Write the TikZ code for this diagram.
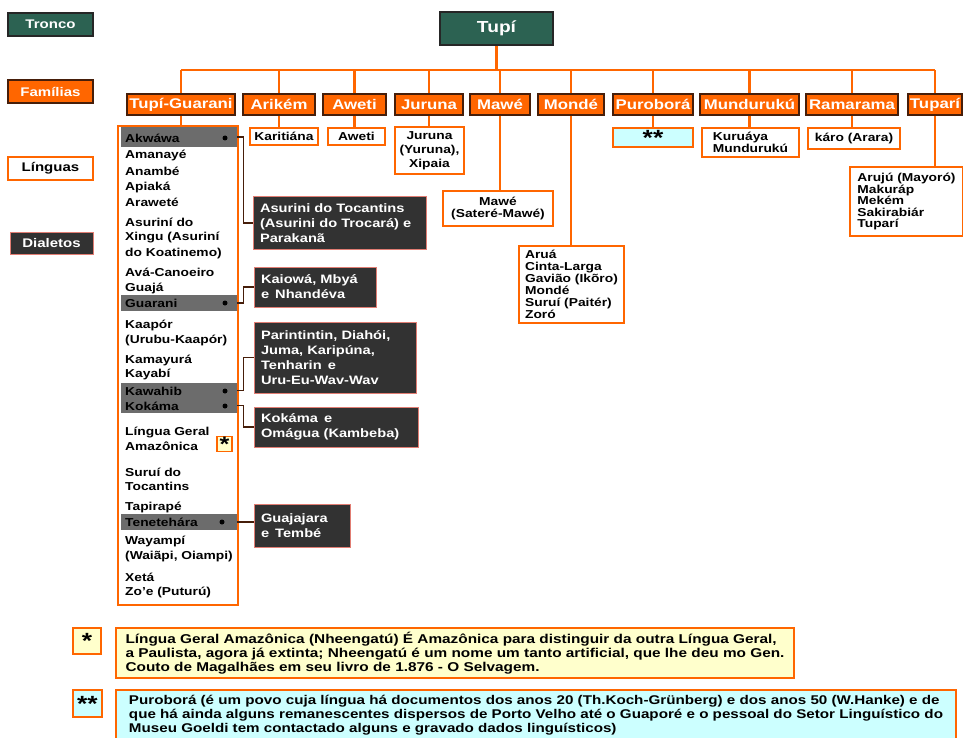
\documentclass[tikz,border=0pt]{standalone}
\usepackage{fontspec}
\setmainfont{Liberation Sans}[FakeStretch=1.2]
\usetikzlibrary{calc}

\definecolor{verdetronco}{RGB}{44,98,82}
\definecolor{laranja}{RGB}{255,102,0}
\definecolor{marrom}{RGB}{70,30,10}
\definecolor{cinzadial}{RGB}{50,50,50}
\definecolor{rosa}{RGB}{225,125,115}
\definecolor{cinzafaixa}{RGB}{108,108,108}
\definecolor{amarelonota}{RGB}{255,255,204}
\definecolor{cianonota}{RGB}{204,255,255}

\begin{document}
\begin{tikzpicture}[x=1pt,y=-1pt,
    caixa/.style={rectangle,inner sep=0pt,font=\bfseries},
    tronco/.style={caixa,fill=verdetronco,draw=black!85,line width=1.2pt,text=white},
    familia/.style={caixa,fill=laranja,draw=marrom,line width=1.2pt,text=white,font=\bfseries\fontsize{14}{16}\selectfont},
    lingua/.style={caixa,fill=white,draw=laranja,line width=2.4pt,align=left,font=\bfseries\fontsize{11.5}{12}\selectfont},
    dialeto/.style={caixa,fill=cinzadial,draw=rosa,line width=1pt,text=white,align=left,inner xsep=7pt,font=\bfseries\fontsize{12.2}{15}\selectfont},
    legenda/.style={minimum width=85,minimum height=23,font=\bfseries\fontsize{12.5}{15}\selectfont},
    faixa/.style={rectangle,inner sep=0pt,fill=cinzafaixa,minimum width=116},
    item/.style={anchor=west,inner sep=0pt,font=\bfseries\fontsize{11.5}{16}\selectfont},
    ponto/.style={circle,fill=black,inner sep=0pt,minimum size=5},
    nota/.style={caixa,draw=laranja,line width=1.2pt,align=left,font=\bfseries\fontsize{12.8}{14}\selectfont},
    asterisco/.style={font=\bfseries\fontsize{22}{22}\selectfont},
    arvore/.style={draw=laranja,line width=2.6pt},
    ligacao/.style={draw=marrom,line width=1.1pt}]

\useasboundingbox (0,0) rectangle (963,738);

% legenda
\node[tronco,legenda]  (lg-tronco)   at (50.5,24.5)  {Tronco};
\node[familia,legenda] (lg-familias) at (50.5,91.5)  {Famílias};
\node[lingua,legenda,line width=1.2pt] (lg-linguas) at (50.5,168.5) {Línguas};
\node[dialeto,legenda,minimum width=83,minimum height=22,inner xsep=0pt] (lg-dialetos) at (51.5,243) {Dialetos};

% tronco e familias
\node[tronco,minimum width=113,minimum height=33,font=\bfseries\fontsize{16}{19}\selectfont] (tupi) at (496.5,28.5) {Tupí};

\node[familia,minimum width=108,minimum height=21] (tg) at (181,104.5)   {Tupí-Guarani};
\node[familia,minimum width=72,minimum height=21]  (ar) at (279,104.5)   {Arikém};
\node[familia,minimum width=63,minimum height=21]  (aw) at (354.5,104.5) {Aweti};
\node[familia,minimum width=68,minimum height=21]  (ju) at (429,104.5)   {Juruna};
\node[familia,minimum width=60,minimum height=21]  (ma) at (500,104.5)   {Mawé};
\node[familia,minimum width=66,minimum height=21]  (mo) at (571,104.5)   {Mondé};
\node[familia,minimum width=80,minimum height=21]  (pu) at (653,104.5)   {Puroborá};
\node[familia,minimum width=99,minimum height=21]  (mu) at (749.5,104.5) {Mundurukú};
\node[familia,minimum width=92,minimum height=21]  (ra) at (852,104.5)   {Ramarama};
\node[familia,minimum width=54,minimum height=21]  (tp) at (935,104.5)   {Tuparí};

\coordinate (barra) at (496,70);
\draw[arvore] (tupi.south) -- (tupi.south |- barra);
\draw[arvore] (tg.north |- barra) -- (tp.north |- barra);
\foreach \f in {tg,ar,aw,ju,ma,mo,pu,mu,ra,tp}
    \draw[arvore] (\f.north) -- (\f.north |- barra);

% linguas
\node[lingua,minimum width=120,minimum height=479] (tg-l) at (178,365.5) {};
\node[lingua,minimum width=68,minimum height=17]  (ar-l) at (284,136.5)   {Karitiána};
\node[lingua,minimum width=57,minimum height=17]  (aw-l) at (356.5,136.5) {Aweti};
\node[lingua,minimum width=69,minimum height=47,align=center,font=\bfseries\fontsize{11.5}{14}\selectfont] (ju-l) at (429.5,150.5) {Juruna\\(Yuruna),\\Xipaia};
\node[lingua,minimum width=110,minimum height=35,align=center] (ma-l) at (498,208.5) {Mawé\\(Sateré-Mawé)};
\node[lingua,minimum width=105,minimum height=77] (mo-l) at (571.5,284.5) {Aruá\\Cinta-Larga\\Gavião (Ikõro)\\Mondé\\Suruí (Paitér)\\Zoró};
\node[lingua,fill=cianonota,minimum width=80,minimum height=19,asterisco] (pu-l) at (653,137.5) {\raisebox{-6pt}{**}};
\node[lingua,minimum width=97,minimum height=29]  (mu-l) at (750.5,142.5) {Kuruáya\\Mundurukú};
\node[lingua,minimum width=92,minimum height=21]  (ra-l) at (854,138.5)   {káro (Arara)};
\node[lingua,minimum width=113,minimum height=69,font=\bfseries\fontsize{11.5}{11.5}\selectfont] (tp-l) at (906.5,201.5) {Arujú (Mayoró)\\Makuráp\\Mekém\\Sakirabiár\\Tuparí};

\foreach \f in {tg,ar,aw,ju,ma,mo,pu,mu,ra,tp}
    \draw[arvore] (\f.south) -- (\f.south |- \f-l.north);

% faixas dos dialetos
\node[faixa,minimum height=20] (f-akwawa)     at (179,137)   {};
\node[faixa,minimum height=16] (f-guarani)    at (179,303)   {};
\node[faixa,minimum height=15] (f-kawahib)    at (179,390.5) {};
\node[faixa,minimum height=15] (f-kokama)     at (179,405.5) {};
\node[faixa,minimum height=16] (f-tenetehara) at (179,522)   {};

\node[item] (i1)  at (125,138) {Akwáwa};
\node[item] (i2)  at (125,155) {Amanayé};
\node[item] (i3)  at (125,171) {Anambé};
\node[item] (i4)  at (125,187) {Apiaká};
\node[item] (i5)  at (125,202) {Araweté};
\node[item] (i6)  at (125,222) {Asuriní do};
\node[item] (i7)  at (125,238) {Xingu (Asuriní};
\node[item] (i8)  at (125,254) {do Koatinemo)};
\node[item] (i9)  at (125,272) {Avá-Canoeiro};
\node[item] (i10) at (125,288) {Guajá};
\node[item] (i11) at (125,303) {Guarani};
\node[item] (i12) at (125,325) {Kaapór};
\node[item] (i13) at (125,340) {(Urubu-Kaapór)};
\node[item] (i14) at (125,360) {Kamayurá};
\node[item] (i15) at (125,374) {Kayabí};
\node[item] (i16) at (125,391) {Kawahib};
\node[item] (i17) at (125,406) {Kokáma};
\node[item] (i18) at (125,432) {Língua Geral};
\node[item] (i19) at (125,446) {Amazônica};
\node[item] (i20) at (125,472) {Suruí do};
\node[item] (i21) at (125,486) {Tocantins};
\node[item] (i22) at (125,507) {Tapirapé};
\node[item] (i23) at (125,522) {Tenetehára};
\node[item] (i24) at (125,541) {Wayampí};
\node[item] (i25) at (125,557) {(Waiãpi, Oiampi)};
\node[item] (i26) at (125,577) {Xetá};
\node[item] (i27) at (125,592) {Zo'e (Puturú)};

\node[ponto] at (225,138) {};
\node[ponto] at (225,303) {};
\node[ponto] at (225,391) {};
\node[ponto] at (225,406) {};
\node[ponto] at (222,522) {};

\node[caixa,fill=amarelonota,draw=laranja,line width=1.2pt,minimum width=15,minimum height=14,font=\bfseries\fontsize{21}{21}\selectfont] (estrela-lg) at (224.5,444) {\raisebox{-6pt}{*}};

% dialetos
\node[dialeto,text width=159,minimum height=52] (d1) at (339.5,223) {Asurini do Tocantins\\(Asurini do Trocará) e\\Parakanã};
\node[dialeto,text width=108,minimum height=40] (d2) at (315,287)   {Kaiowá, Mbyá\\e\, Nhandéva};
\node[dialeto,text width=148,minimum height=71] (d3) at (335,357.5) {Parintintin, Diahói,\\Juma, Karipúna,\\Tenharin\, e\\Uru-Eu-Wav-Wav};
\node[dialeto,text width=150,minimum height=40] (d4) at (336,427)   {Kokáma\, e\\Omágua (Kambeba)};
\node[dialeto,text width=82,minimum height=43]  (d5) at (302,525.5) {Guajajara\\e\, Tembé};

\draw[ligacao] (f-akwawa.east) -- ++(6,0) |- (d1.west);
\draw[ligacao] (f-guarani.east) -- ++(6,0) |- (d2.west);
\draw[ligacao] (f-kawahib.east) -- ++(6,0) |- (d3.west);
\draw[ligacao] (f-kokama.east) -- ++(6,0) |- (d4.west);
\draw[ligacao] (f-tenetehara.east) -- (f-tenetehara.east -| d5.west);

% notas
\node[nota,fill=amarelonota,minimum width=28,minimum height=26,asterisco] (estrela1) at (87,641) {\raisebox{-6pt}{*}};
\node[nota,fill=amarelonota,minimum width=678,minimum height=50] (nota1) at (455,653)
    {Língua Geral Amazônica (Nheengatú) É Amazônica para distinguir da outra Língua Geral,\\
     a Paulista, agora já extinta; Nheengatú é um nome um tanto artificial, que lhe deu mo Gen.\\
     Couto de Magalhães em seu livro de 1.876 - O Selvagem.};
\node[nota,fill=cianonota,minimum width=29,minimum height=27,asterisco] (estrela2) at (87.5,703.5) {\raisebox{-6pt}{**}};
\node[nota,fill=cianonota,minimum width=840,minimum height=50,font=\bfseries\fontsize{12.65}{14}\selectfont] (nota2) at (536,715)
    {Puroborá (é um povo cuja língua há documentos dos anos 20 (Th.Koch-Grünberg) e dos anos 50 (W.Hanke) e de\\
     que há ainda alguns remanescentes dispersos de Porto Velho até o Guaporé e o pessoal do Setor Linguístico do\\
     Museu Goeldi tem contactado alguns e gravado dados linguísticos)};
\end{tikzpicture}
\end{document}
